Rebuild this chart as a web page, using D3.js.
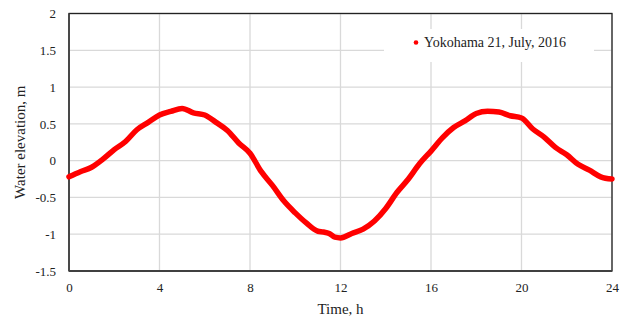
<!DOCTYPE html>
<html><head><meta charset="utf-8">
<script src="https://cdn.jsdelivr.net/npm/d3@7"></script>
<style>body{margin:0;background:#fff} svg text{font-family:"Liberation Serif","DejaVu Serif",serif !important;}</style>
</head><body>
<svg id="c" width="630" height="322"></svg>
<script>
const times = [0,0.5,1,1.5,2,2.5,3,3.5,4,4.5,5,5.5,6,6.5,7,7.5,8,8.5,9,9.5,10,10.5,11,11.25,11.5,11.75,12,12.5,13,13.5,14,14.5,15,15.5,16,16.5,17,17.5,18,18.5,19,19.5,20,20.5,21,21.5,22,22.5,23,23.5,24];
const elevation = [-0.22,-0.15,-0.09,0.02,0.15,0.26,0.42,0.52,0.62,0.67,0.71,0.65,0.62,0.52,0.41,0.24,0.10,-0.15,-0.34,-0.55,-0.71,-0.85,-0.96,-0.97,-0.99,-1.04,-1.05,-0.99,-0.93,-0.82,-0.65,-0.43,-0.25,-0.04,0.13,0.31,0.45,0.54,0.64,0.67,0.66,0.61,0.58,0.43,0.32,0.18,0.08,-0.05,-0.13,-0.22,-0.25];
const xTicks = [0,4,8,12,16,20,24];
const yTicks = [-1.5,-1,-0.5,0,0.5,1,1.5,2];
const seriesName = "Yokohama 21, July, 2016";
const xTitle = "Time, h";
const yTitle = "Water elevation, m";

const svg = d3.select("#c");
const L=69, R=612, T=13.5, B=271;
const x = d3.scaleLinear().domain([0,24]).range([L,R]);
const y = d3.scaleLinear().domain([-1.5,2]).range([B,T]);

svg.append("g").selectAll("line").data(yTicks).join("line")
  .attr("x1",L).attr("x2",R).attr("y1",d=>y(d)).attr("y2",d=>y(d))
  .attr("stroke","#d9d9d9").attr("stroke-width",1.3);
svg.append("g").selectAll("line").data(xTicks).join("line")
  .attr("y1",T).attr("y2",B).attr("x1",d=>x(d)).attr("x2",d=>x(d))
  .attr("stroke","#d9d9d9").attr("stroke-width",1.3);

svg.append("rect").attr("x",384).attr("y",29).attr("width",210).attr("height",33).attr("fill","#fff");

svg.append("rect").attr("x",L).attr("y",T).attr("width",R-L).attr("height",B-T)
  .attr("fill","none").attr("stroke","#222").attr("stroke-width",1.3);
svg.append("line").attr("x1",L).attr("x2",R).attr("y1",B).attr("y2",B).attr("stroke","#404040").attr("stroke-width",2);
svg.append("line").attr("x1",L).attr("x2",L).attr("y1",T).attr("y2",B).attr("stroke","#404040").attr("stroke-width",1.5);

const xAxis = svg.append("g").attr("transform",`translate(0,${B})`)
  .call(d3.axisBottom(x).tickValues(xTicks).tickSize(0).tickPadding(12).tickFormat(d3.format("d")));
const yAxis = svg.append("g").attr("transform",`translate(${L},0)`)
  .call(d3.axisLeft(y).tickValues(yTicks).tickSize(0).tickPadding(13).tickFormat(d=>String(d)));
[xAxis,yAxis].forEach(g=>{
  g.attr("font-family",null).attr("font-size",13);
  g.select(".domain").remove();
  g.selectAll("text").attr("fill","#222");
});

const line = d3.line().x((d,i)=>x(times[i])).y(d=>y(d)).curve(d3.curveMonotoneX);
svg.append("path").datum(elevation).attr("d",line)
  .attr("fill","none").attr("stroke","#ff0000").attr("stroke-width",5.5)
  .attr("stroke-linejoin","round").attr("stroke-linecap","round");

svg.append("circle").attr("cx",416).attr("cy",42.5).attr("r",2.3).attr("fill","#ff0000");
svg.append("text").attr("x",424).attr("y",47).text(seriesName)
  .attr("font-size",14).attr("fill","#222");

svg.append("text").attr("x",(L+R)/2).attr("y",314).attr("text-anchor","middle")
  .attr("font-size",15).attr("fill","#222").text(xTitle);
svg.append("text").attr("transform",`translate(25,${(T+B)/2}) rotate(-90)`).attr("text-anchor","middle")
  .attr("font-size",15).attr("fill","#222").text(yTitle);
</script>
</body></html>
